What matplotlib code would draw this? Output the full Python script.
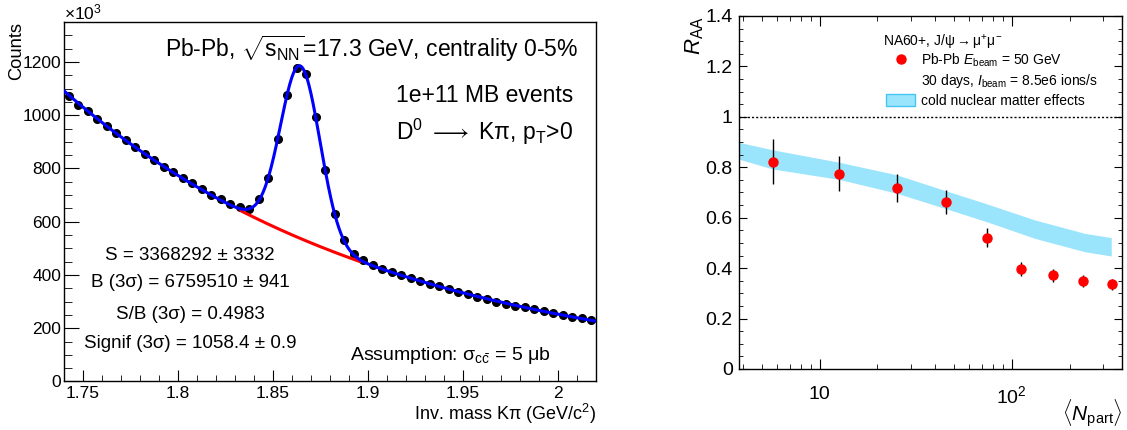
import numpy as np
import matplotlib
matplotlib.use('Agg')
import matplotlib.pyplot as plt
from matplotlib.lines import Line2D
from matplotlib.patches import Patch
from matplotlib.ticker import MultipleLocator, FuncFormatter, LogLocator, NullFormatter

plt.rcParams['font.family'] = ['Liberation Sans', 'DejaVu Sans']
plt.rcParams['mathtext.fontset'] = 'custom'
plt.rcParams['mathtext.rm'] = 'Liberation Sans'
plt.rcParams['mathtext.it'] = 'Liberation Sans:italic'
plt.rcParams['mathtext.bf'] = 'Liberation Sans:bold'
plt.rcParams['axes.linewidth'] = 1.0

# ---- left panel: D0 -> K pi invariant mass (counts in units of 10^3) ----
mass_lo, mass_hi = 1.74, 2.02
counts = [1072, 1039, 1016, 985, 958, 932, 907, 881, 856, 831,
          806, 786, 765, 745, 722, 701, 684, 666, 655, 649,
          684, 766, 912, 1077, 1176, 1153, 993, 793, 628, 531,
          478, 456, 438, 423, 411, 399, 388, 377, 367, 357,
          347, 337, 328, 318, 309, 300, 292, 285, 278, 271,
          264, 257, 250, 243, 237, 231]
stats_lines = ["S = 3368292 ± 3332",
               "B (3σ) = 6759510 ± 941",
               "S/B (3σ) = 0.4983",
               "Signif (3σ) = 1058.4 ± 0.9"]

# ---- right panel: J/psi R_AA vs <Npart> ----
npart = [5.7, 12.6, 25.2, 45.7, 74.1, 112, 165, 234, 332]
raa = [0.822, 0.775, 0.718, 0.661, 0.520, 0.398, 0.372, 0.350, 0.336]
raa_err = [0.09, 0.07, 0.055, 0.047, 0.038, 0.028, 0.026, 0.024, 0.022]
band_npart = [3.8, 5.7, 12.6, 25.2, 45.7, 74.1, 132, 240, 330]
band_lo = [0.832, 0.793, 0.752, 0.697, 0.635, 0.584, 0.518, 0.465, 0.448]
band_hi = [0.899, 0.869, 0.820, 0.770, 0.706, 0.655, 0.591, 0.538, 0.521]

band_color = '#9be5fc'

# histogram bins
counts = np.array(counts, dtype=float)
edges = np.linspace(mass_lo, mass_hi, len(counts) + 1)
mass = 0.5 * (edges[:-1] + edges[1:])

# background: expo(pol2) fitted on the side bands
side = (mass < 1.825) | (mass > 1.905)
bg_par = np.polyfit(mass[side], np.log(counts[side]), 2)
def bkg(x):
    return np.exp(np.polyval(bg_par, x))

# signal: gaussian fitted to the residuals in the peak region
resid = counts - bkg(mass)
pk = (mass > 1.825) & (mass < 1.905) & (resid > 0.15 * resid.max())
a, b, c = np.polyfit(mass[pk], np.log(resid[pk]), 2)
sigma = np.sqrt(-1.0 / (2 * a))
mean = -b / (2 * a)
amp = np.exp(c - b * b / (4 * a))
def gaus(x):
    return amp * np.exp(-0.5 * ((x - mean) / sigma) ** 2)

fig = plt.figure(figsize=(11.27, 4.30), dpi=100)
ax1 = fig.add_axes([0.0568, 0.1128, 0.472, 0.836])
ax2 = fig.add_axes([0.6557, 0.1419, 0.3398, 0.821])

ax1.plot(mass, counts, 'o', color='black', ms=5.5, zorder=2)
xr = np.linspace(mean - 3 * sigma, mean + 3 * sigma, 200)
ax1.plot(xr, bkg(xr), color='#ff0000', lw=2.2, zorder=3)
xf = np.linspace(mass_lo, mass_hi, 800)
ax1.plot(xf, bkg(xf) + gaus(xf), color='#0000ff', lw=2.2, zorder=4)

ax1.set_xlim(mass_lo, mass_hi)
ax1.set_ylim(0, 1350)
ax1.xaxis.set_major_locator(MultipleLocator(0.05))
ax1.xaxis.set_minor_locator(MultipleLocator(0.01))
ax1.yaxis.set_major_locator(MultipleLocator(200))
ax1.yaxis.set_minor_locator(MultipleLocator(50))
ax1.xaxis.set_major_formatter(FuncFormatter(lambda v, p: '%g' % round(v, 3)))
ax1.tick_params(which='both', direction='in', top=False, right=False, labelsize=12.5)
ax1.tick_params(axis='y', which='major', length=11, pad=2)
ax1.tick_params(axis='y', which='minor', length=5.5)
ax1.tick_params(axis='x', which='major', length=8, pad=3.5)
ax1.tick_params(axis='x', which='minor', length=4)

ax1.set_ylabel('Counts', loc='top', fontsize=13.2)
ax1.yaxis.set_label_coords(-0.074, 1.0)
ax1.set_xlabel('Inv. mass Kπ (GeV/c$^{2}$)', loc='right', fontsize=13)
ax1.xaxis.set_label_coords(1.0, -0.056)
ax1.text(0.0, 1.006, '×10$^{3}$', transform=ax1.transAxes, ha='left', va='baseline', fontsize=12.5)

ax1.text(0.19, 0.9035, r'Pb-Pb, $\sqrt{\mathrm{s}_{\mathrm{NN}}}$=17.3 GeV, centrality 0-5%',
         transform=ax1.transAxes, ha='left', va='baseline', fontsize=16.5)
ax1.text(0.625, 0.777, '1e+11 MB events', transform=ax1.transAxes,
         ha='left', va='baseline', fontsize=16.5)
ax1.text(0.625, 0.672, r'D$^{0}$ $\longrightarrow$ Kπ, p$_{\mathrm{T}}$>0', transform=ax1.transAxes,
         ha='left', va='baseline', fontsize=16.5)
for line, yy in zip(stats_lines, [0.338, 0.262, 0.174, 0.0923]):
    ax1.text(0.237, yy, line, transform=ax1.transAxes, ha='center', va='baseline', fontsize=13.5)
ax1.text(0.538, 0.061, r'Assumption: σ$_{\mathrm{c\bar{c}}}$ = 5 μb', transform=ax1.transAxes,
         ha='left', va='baseline', fontsize=14)

# right panel
ax2.fill_between(band_npart, band_lo, band_hi, color=band_color, lw=0, zorder=1)
ax2.axhline(1.0, color='black', lw=1.0, ls=(0, (1.5, 1.5)), zorder=2)
ax2.errorbar(npart, raa, yerr=raa_err, fmt='o', color='#ff0000', mec='#ff0000', ms=6.5,
             ecolor='black', elinewidth=1.0, capsize=0, zorder=3)

ax2.set_xscale('log')
ax2.set_xlim(3.8, 375)
ax2.set_ylim(0, 1.4)
ax2.set_xticks([10, 100])
ax2.set_xticklabels(['10', '10$^{2}$'])
ax2.xaxis.set_minor_locator(LogLocator(base=10, subs=np.arange(2, 10), numticks=20))
ax2.xaxis.set_minor_formatter(NullFormatter())
ax2.yaxis.set_major_locator(MultipleLocator(0.2))
ax2.yaxis.set_minor_locator(MultipleLocator(0.05))
ax2.yaxis.set_major_formatter(FuncFormatter(lambda v, p: '%g' % round(v, 2)))
ax2.tick_params(which='both', direction='in', top=True, right=True, labelsize=14)
ax2.tick_params(axis='y', which='major', length=6, pad=4.5)
ax2.tick_params(axis='y', which='minor', length=3)
ax2.tick_params(axis='x', which='major', length=7, pad=12)
ax2.tick_params(axis='x', which='minor', length=3.5)

ax2.set_ylabel(r'$R_{\mathrm{AA}}$', loc='top', fontsize=16)
ax2.yaxis.set_label_coords(-0.085, 1.0)
ax2.set_xlabel(r'$\langle N_{\mathrm{part}}\rangle$', loc='right', fontsize=15)
ax2.xaxis.set_label_coords(1.0, -0.079)

ax2.text(0.376, 0.925, r'NA60+, J/ψ$\rightarrow$μ$^{+}$μ$^{-}$', transform=ax2.transAxes,
         ha='left', va='center', fontsize=10)
handles = [Line2D([], [], ls='none', marker='o', color='#ff0000', ms=6.5),
           Line2D([], [], ls='none'),
           Patch(facecolor=band_color, edgecolor='#45c6f2', lw=1.0)]
labels = [r'Pb-Pb $E_{\mathrm{beam}}$ = 50 GeV',
          r'30 days, $I_{\mathrm{beam}}$ = 8.5e6 ions/s',
          'cold nuclear matter effects']
ax2.legend(handles, labels, fontsize=10, frameon=False, loc='upper left',
           bbox_to_anchor=(0.384, 0.899), borderpad=0, borderaxespad=0,
           handlelength=2.1, handleheight=1.0, handletextpad=0.4, labelspacing=0.25)

fig.savefig('out.png', dpi=100)
